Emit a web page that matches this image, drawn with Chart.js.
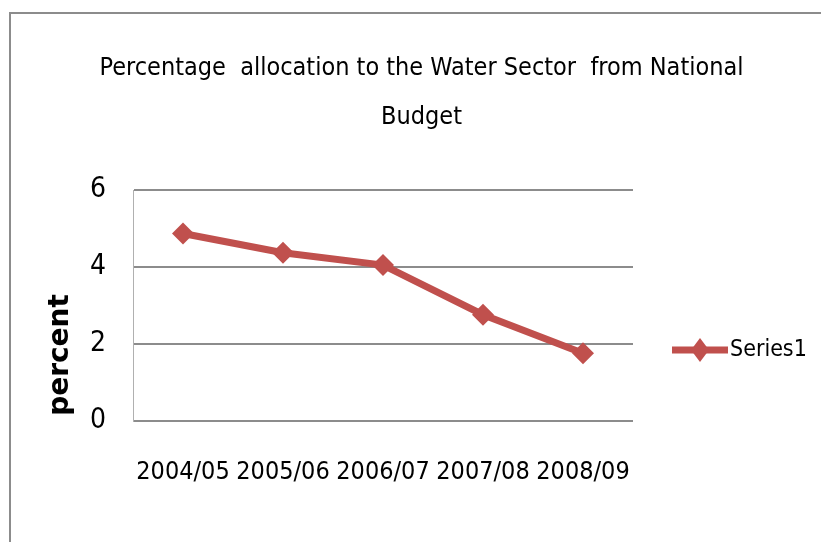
<!DOCTYPE html>
<html>
<head>
<meta charset="utf-8">
<script src="https://cdn.jsdelivr.net/npm/chart.js@4"></script>
<style>
    html, body { margin: 0; padding: 0; background: #fff; overflow: hidden; }
    #frame {
        position: absolute; left: 9px; top: 12px; width: 900px; height: 600px;
        border-left: 2px solid #8c8c8c; border-top: 2px solid #8c8c8c;
    }
    #wrap { position: absolute; left: 0; top: 0; width: 821px; height: 542px; }
</style>
</head>
<body>
<div id="frame"></div>
<div id="wrap"><canvas id="lineChart"></canvas></div>
<script>
var years = ["2004/05", "2005/06", "2006/07", "2007/08", "2008/09"];
var series1 = [4.87, 4.37, 4.05, 2.76, 1.76];
var y_ticks = [0, 2, 4, 6];

var lineColor = "#c0504d";
var fontFam = "'Liberation Sans Narrow', 'DejaVu Sans Condensed', sans-serif";

// legend: line with diamond + label, at the right of the plot
var legendPlugin = {
    id: "seriesLegend",
    afterDraw: function (chart) {
        var ctx = chart.ctx;
        var x = chart.chartArea.right + 39;
        var y = 350;
        var ds = chart.data.datasets[0];
        ctx.save();
        ctx.strokeStyle = lineColor;
        ctx.lineWidth = 7;
        ctx.beginPath();
        ctx.moveTo(x, y);
        ctx.lineTo(x + 56, y);
        ctx.stroke();
        ctx.fillStyle = lineColor;
        ctx.beginPath();
        ctx.moveTo(x + 28, y - 12);
        ctx.lineTo(x + 37, y);
        ctx.lineTo(x + 28, y + 12);
        ctx.lineTo(x + 19, y);
        ctx.closePath();
        ctx.fill();
        ctx.font = "23px " + fontFam;
        ctx.fillStyle = "#000";
        ctx.textAlign = "left";
        ctx.textBaseline = "middle";
        ctx.fillText(ds.label, x + 58, y);
        ctx.restore();
    },
};

var yTitlePlugin = {
    id: "yTitle",
    afterDraw: function (chart) {
        var ctx = chart.ctx;
        ctx.save();
        ctx.translate(chart.chartArea.left - 72, 355);
        ctx.rotate(-Math.PI / 2);
        ctx.font = "bold 28px 'DejaVu Sans', sans-serif";
        ctx.fillStyle = "#000";
        ctx.textAlign = "center";
        ctx.textBaseline = "middle";
        ctx.fillText("percent", 0, 0);
        ctx.restore();
    },
};

var lineCanvas = document.getElementById("lineChart").getContext("2d");
new Chart(lineCanvas, {
    type: "line",
    data: {
        labels: years,
        datasets: [
            {
                label: "Series1",
                data: series1,
                borderColor: lineColor,
                backgroundColor: lineColor,
                borderWidth: 7,
                pointStyle: "rectRot",
                pointRadius: 11,
                pointBackgroundColor: lineColor,
                pointBorderWidth: 0,
                tension: 0,
            },
        ],
    },
    options: {
        responsive: true,
        maintainAspectRatio: false,
        animation: false,
        layout: { padding: { left: 22, right: 0, top: 0, bottom: 19 } },
        plugins: {
            title: {
                display: true,
                text: ["Percentage  allocation to the Water Sector  from National", "Budget"],
                color: "#000",
                font: { family: fontFam, size: 25, weight: "normal", lineHeight: 1.96 },
                padding: { top: 44, bottom: 48 },
            },
            legend: { display: false },
            tooltip: { enabled: false },
        },
        scales: {
            x: {
                offset: true,
                grid: { display: false, drawTicks: false },
                border: { display: false },
                ticks: {
                    color: "#000",
                    font: { family: fontFam, size: 25 },
                    padding: 36,
                    maxRotation: 0,
                    autoSkip: false,
                },
            },
            y: {
                min: 0,
                max: 6,
                afterBuildTicks: function (axis) {
                    axis.ticks = y_ticks.map(function (v) { return { value: v }; });
                },
                afterFit: function (axis) {
                    axis.width = 111;
                },
                grid: { color: "#8c8c8c", lineWidth: 2, drawTicks: false },
                border: { display: true, color: "#b0b0b0", width: 1 },
                ticks: {
                    color: "#000",
                    font: { family: fontFam, size: 28 },
                    padding: 27,
                },
            },
            // empty right-hand space where the legend sits
            legendSpace: {
                type: "linear",
                position: "right",
                afterFit: function (axis) {
                    axis.width = 188;
                },
                grid: { display: false, drawTicks: false },
                border: { display: false },
                ticks: { display: false },
            },
        },
    },
    plugins: [yTitlePlugin, legendPlugin],
});
</script>
</body>
</html>
